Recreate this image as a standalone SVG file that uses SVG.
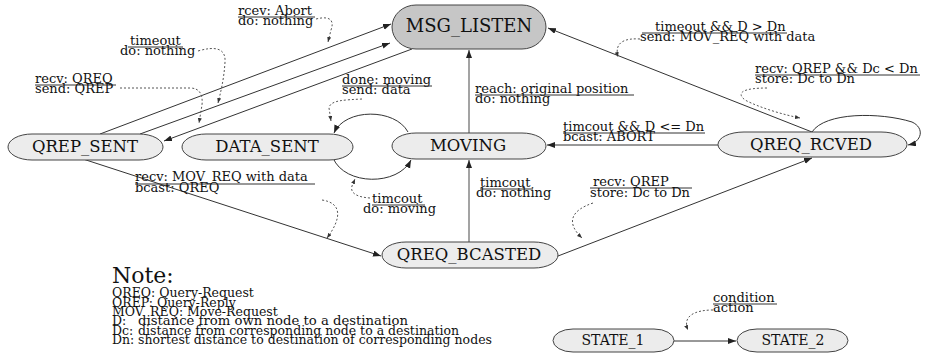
<svg xmlns="http://www.w3.org/2000/svg" width="928" height="363" viewBox="0 0 928 363">
<style>
.node{fill:#ececec;stroke:#444;stroke-width:1}
.main{fill:#c6c6c6;stroke:#444;stroke-width:1}
.nt{font-family:"DejaVu Serif","Liberation Serif",serif;font-size:16.5px;fill:#111;text-anchor:middle}
.lb{font-family:"DejaVu Serif","Liberation Serif",serif;font-size:13px;fill:#111}
.ul{stroke:#333;stroke-width:1}
.edge{fill:none;stroke:#333;stroke-width:1}
.vedge{fill:none;stroke:#666;stroke-width:1.2}
.dot{fill:none;stroke:#555;stroke-width:1;stroke-dasharray:2,2}
.note{font-family:"DejaVu Serif","Liberation Serif",serif;font-size:12.5px;fill:#111}
</style>
<defs>
<marker id="arr" markerUnits="userSpaceOnUse" markerWidth="9" markerHeight="7" refX="8" refY="3" orient="auto">
<path d="M0,0 L8,3 L0,6 z" fill="#222"/>
</marker>
<marker id="arrs" markerUnits="userSpaceOnUse" markerWidth="6" markerHeight="5" refX="5" refY="2" orient="auto">
<path d="M0,0 L5,2 L0,4 z" fill="#333"/>
</marker>
</defs>
<rect width="928" height="363" fill="#fff"/>

<g id="connectors">
<line class="edge" x1="100" y1="134" x2="391" y2="24" marker-end="url(#arr)"/>
<line class="edge" x1="140" y1="134" x2="390" y2="43" marker-end="url(#arr)"/>
<line class="edge" x1="412" y1="49" x2="164" y2="141" marker-end="url(#arr)"/>
<line class="vedge" x1="469" y1="133" x2="469" y2="50" marker-end="url(#arr)"/>
<line class="vedge" x1="469" y1="242" x2="469" y2="160" marker-end="url(#arr)"/>
<line class="edge" x1="718" y1="145" x2="547" y2="145" marker-end="url(#arr)"/>
<line class="edge" x1="812" y1="132" x2="548" y2="28" marker-end="url(#arr)"/>
<path class="edge" d="M812,132 C825,112 880,112 912,122 C925,128 922,142 908,145" marker-end="url(#arr)"/>
<line class="edge" x1="83" y1="159" x2="381" y2="256" marker-end="url(#arr)"/>
<line class="edge" x1="558" y1="256" x2="812" y2="158" marker-end="url(#arr)"/>
<path class="edge" d="M408,132 C395,108 345,108 334,133" marker-end="url(#arr)"/>
<path class="edge" d="M333,158 C345,186 398,186 411,160" marker-end="url(#arr)"/>
<line class="edge" x1="674" y1="341" x2="736" y2="341" marker-end="url(#arr)"/>

<path class="dot" d="M316,19 C332,15 334,22 331,30 L328,42" marker-end="url(#arrs)"/>
<path class="dot" d="M198,51 C215,46 226,48 225,62 C224,80 220,95 218,103" marker-end="url(#arrs)"/>
<path class="dot" d="M120,88 L190,88 C200,88 203,95 202,105 L199,123" marker-end="url(#arrs)"/>
<path class="dot" d="M362,99 C345,100 330,100 329,108 L331,121" marker-end="url(#arrs)"/>
<path class="dot" d="M370,198 C355,197 350,192 352,186 L355,179" marker-end="url(#arrs)"/>
<path class="dot" d="M322,200 C342,203 342,218 327,238" marker-end="url(#arrs)"/>
<path class="dot" d="M593,203 C572,210 565,222 582,238" marker-end="url(#arrs)"/>
<path class="dot" d="M640,39 C625,38 614,42 618,57" marker-end="url(#arrs)"/>
<path class="dot" d="M767,88 C745,88 735,92 745,100 C760,108 785,115 800,118" marker-end="url(#arrs)"/>
<path class="dot" d="M713,310 C695,310 682,316 688,330" marker-end="url(#arrs)"/>
</g>

<g id="labels">
<text class="lb" x="238" y="15">rcev: Abort</text>
<line class="ul" x1="238" y1="17" x2="315" y2="17"/>
<text class="lb" x="238" y="25">do: nothing</text>

<text class="lb" x="130" y="45">timeout</text>
<line class="ul" x1="128" y1="47" x2="183" y2="47"/>
<text class="lb" x="120" y="55">do: nothing</text>

<text class="lb" x="35" y="83">recv: QREQ</text>
<line class="ul" x1="35" y1="85" x2="116" y2="85"/>
<text class="lb" x="35" y="93">send: QREP</text>

<text class="lb" x="342" y="84">done: moving</text>
<line class="ul" x1="342" y1="86" x2="432" y2="86"/>
<text class="lb" x="342" y="94">send: data</text>

<text class="lb" x="475" y="93">reach: original position</text>
<line class="ul" x1="475" y1="95" x2="634" y2="95"/>
<text class="lb" x="475" y="103">do: nothing</text>

<text class="lb" x="655" y="31">timeout &amp;&amp; D &gt; Dn</text>
<line class="ul" x1="642" y1="33" x2="787" y2="33"/>
<text class="lb" x="640" y="41">send: MOV_REQ with data</text>

<text class="lb" x="755" y="73">recv: QREP &amp;&amp; Dc &lt; Dn</text>
<line class="ul" x1="755" y1="75" x2="920" y2="75"/>
<text class="lb" x="755" y="83">store: Dc to Dn</text>

<text class="lb" x="563" y="131">timcout &amp;&amp; D &lt;= Dn</text>
<line class="ul" x1="563" y1="133" x2="705" y2="133"/>
<text class="lb" x="563" y="141">bcast: ABORT</text>

<text class="lb" x="135" y="181">recv: MOV_REQ with data</text>
<line class="ul" x1="135" y1="184" x2="315" y2="184"/>
<text class="lb" x="135" y="192">bcast: QREQ</text>

<text class="lb" x="372" y="203">timcout</text>
<line class="ul" x1="372" y1="205" x2="425" y2="205"/>
<text class="lb" x="363" y="213">do: moving</text>

<text class="lb" x="480" y="187">timcout</text>
<line class="ul" x1="480" y1="189" x2="533" y2="189"/>
<text class="lb" x="476" y="197">do: nothing</text>

<text class="lb" x="593" y="186">recv: QREP</text>
<line class="ul" x1="590" y1="188" x2="692" y2="188"/>
<text class="lb" x="590" y="197">store: Dc to Dn</text>

<text class="lb" x="713" y="302">condition</text>
<line class="ul" x1="713" y1="304" x2="777" y2="304"/>
<text class="lb" x="713" y="312">action</text>
</g>

<g id="MSG_LISTEN">
<rect class="main" x="392" y="5" width="154" height="44" rx="24" ry="22"/>
<text class="nt" x="469" y="32" style="font-size:18px">MSG_LISTEN</text>
</g>
<g id="QREP_SENT">
<rect class="node" x="8" y="134" width="155" height="26" rx="24" ry="13"/>
<text class="nt" x="85" y="152">QREP_SENT</text>
</g>
<g id="DATA_SENT">
<rect class="node" x="182" y="134" width="171" height="26" rx="24" ry="13"/>
<text class="nt" x="267" y="152">DATA_SENT</text>
</g>
<g id="MOVING">
<rect class="node" x="392" y="133" width="154" height="26" rx="24" ry="13"/>
<text class="nt" x="468" y="151">MOVING</text>
</g>
<g id="QREQ_RCVED">
<rect class="node" x="718" y="132" width="189" height="25" rx="26" ry="12.5"/>
<text class="nt" x="811" y="150">QREQ_RCVED</text>
</g>
<g id="QREQ_BCASTED">
<rect class="node" x="382" y="242" width="176" height="26" rx="24" ry="13"/>
<text class="nt" x="469" y="260">QREQ_BCASTED</text>
</g>
<g id="STATE_1">
<rect class="node" x="553" y="329" width="121" height="23" rx="20" ry="11.5"/>
<text class="nt" x="613" y="345" style="font-size:14px">STATE_1</text>
</g>
<g id="STATE_2">
<rect class="node" x="737" y="329" width="111" height="23" rx="20" ry="11.5"/>
<text class="nt" x="793" y="345" style="font-size:14px">STATE_2</text>
</g>

<g id="note">
<text x="112" y="283" style="font-family:'DejaVu Serif','Liberation Serif',serif;font-size:22px;fill:#111">Note:</text>
<text class="note" x="112" y="297">QREQ: Query-Request</text>
<text class="note" x="112" y="306.5">QREP: Query-Reply</text>
<text class="note" x="112" y="316">MOV_REQ: Move-Request</text>
<text class="note" x="112" y="325">D:</text>
<text class="note" x="138" y="325" textLength="270" lengthAdjust="spacingAndGlyphs">distance from own node to a destination</text>
<text class="note" x="112" y="334.5">Dc:</text>
<text class="note" x="138" y="334.5">distance from corresponding node to a destination</text>
<text class="note" x="112" y="344">Dn:</text>
<text class="note" x="138" y="344">shortest distance to destination of corresponding nodes</text>
</g>
</svg>
